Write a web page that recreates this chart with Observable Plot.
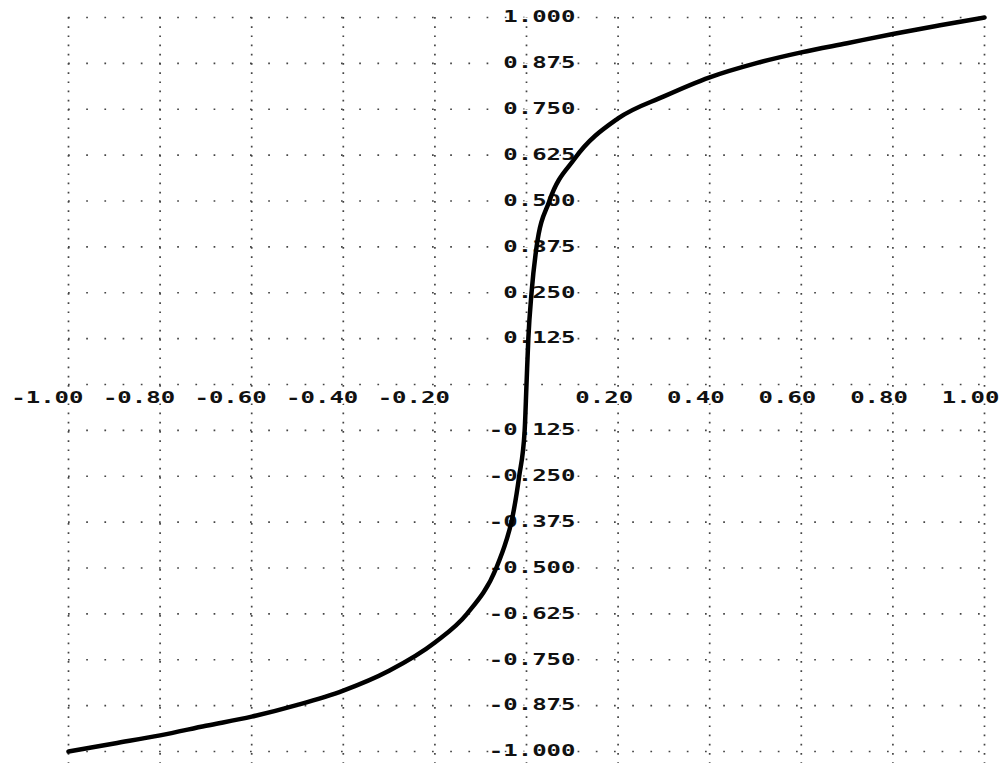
<!DOCTYPE html>
<html>
<head>
<meta charset="utf-8">
<script src="https://cdn.jsdelivr.net/npm/d3@7"></script>
<script src="https://cdn.jsdelivr.net/npm/@observablehq/plot@0.6"></script>
<style>
  html, body { margin: 0; padding: 0; background: #fff; }
  #chart svg { display: block; }
</style>
</head>
<body>
<div id="chart"></div>
<script>
// Curve
const curveX = [-1, -0.9, -0.8, -0.7, -0.6, -0.5, -0.4, -0.3, -0.2, -0.13, -0.066, -0.044, -0.033, -0.016, -0.004, 0, 0.004, 0.011, 0.022, 0.05, 0.105, 0.2, 0.3, 0.4, 0.5, 0.6, 0.7, 0.8, 0.9, 1];
const curveY = [-1, -0.978, -0.956, -0.93, -0.905, -0.873, -0.834, -0.78, -0.703, -0.625, -0.5, -0.425, -0.375, -0.25, -0.125, 0, 0.125, 0.25, 0.375, 0.5, 0.615, 0.725, 0.785, 0.837, 0.875, 0.905, 0.93, 0.955, 0.978, 1];

// Grid positions
const xGrid = [-1, -0.8, -0.6, -0.4, -0.2, 0, 0.2, 0.4, 0.6, 0.8, 1];
const yGrid = [-1, -0.875, -0.75, -0.625, -0.5, -0.375, -0.25, -0.125, 0, 0.125, 0.25, 0.375, 0.5, 0.625, 0.75, 0.875, 1];

// Tick labels
const xLabelValues = [-1, -0.8, -0.6, -0.4, -0.2, 0.2, 0.4, 0.6, 0.8, 1];
const xLabelText = ["-1.00", "-0.80", "-0.60", "-0.40", "-0.20", "0.20", "0.40", "0.60", "0.80", "1.00"];
const yLabelValues = [1, 0.875, 0.75, 0.625, 0.5, 0.375, 0.25, 0.125, -0.125, -0.25, -0.375, -0.5, -0.625, -0.75, -0.875, -1];
const yLabelText = ["1.000", "0.875", "0.750", "0.625", "0.500", "0.375", "0.250", "0.125", "-0.125", "-0.250", "-0.375", "-0.500", "-0.625", "-0.750", "-0.875", "-1.000"];

const curve = curveX.map((x, i) => ({x, y: curveY[i]}));
const xLabels = xLabelValues.map((v, i) => ({v, t: xLabelText[i]}));
const yLabels = yLabelValues.map((v, i) => ({v, t: yLabelText[i]}));

const labelFont = {
  fontFamily: "DejaVu Sans Mono",
  fontWeight: "bold",
  fontSize: 15,
  fill: "#111",
  stroke: "white",
  strokeWidth: 3,
  textAnchor: "end"
};

const chart = Plot.plot({
  width: 1003,
  height: 763,
  marginLeft: 68,
  marginRight: 19,
  marginTop: 17,
  marginBottom: 12,
  x: {domain: [-1, 1], axis: null},
  y: {domain: [-1, 1], axis: null},
  marks: [
    Plot.ruleX(xGrid, {x: d => d, y1: 1, y2: -1.035, stroke: "#444", strokeWidth: 1.7, strokeDasharray: "1.7,7.5"}),
    Plot.ruleY(yGrid, {y: d => d, x1: -1, x2: 1, stroke: "#444", strokeWidth: 1.7, strokeDasharray: "1.7,16.5"}),
    Plot.text(xLabels, {x: "v", y: 0, text: "t", dx: 15, dy: 14, ...labelFont}),
    Plot.text(yLabels, {x: 0, y: "v", text: "t", dx: 49, ...labelFont}),
    Plot.line(curve, {x: "x", y: "y", stroke: "#000", strokeWidth: 4.5, curve: "monotone-x", strokeLinejoin: "round"})
  ]
});

// widen the label glyphs horizontally around their right anchor
d3.select(chart).selectAll('g[aria-label="text"] text').each(function() {
  const el = d3.select(this);
  const t = el.attr("transform") || "";
  el.attr("transform", (t + " scale(1.6,1)").trim());
});

document.getElementById("chart").appendChild(chart);
</script>
</body>
</html>
